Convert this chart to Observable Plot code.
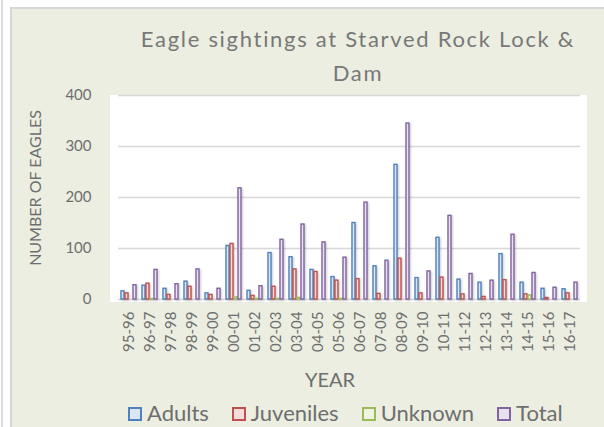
<!DOCTYPE html>
<html>
<head>
<meta charset="utf-8">
<script src="https://cdn.jsdelivr.net/npm/d3@7"></script>
<script src="https://cdn.jsdelivr.net/npm/@observablehq/plot@0.6"></script>
<style>
  html, body { margin: 0; padding: 0; background: #ffffff; }
  #page { position: relative; width: 604px; height: 427px; overflow: hidden; font-family: Lato, "Open Sans", sans-serif; }
  #vline { position: absolute; left: 1px; top: 0; width: 2px; height: 427px; background: #dcdcdc; }
  #frame { position: absolute; left: 10px; top: 7px; width: 610px; height: 440px; background: #ebeee0; border-left: 2px solid #d6d6d6; border-top: 2px solid #d6d6d6; }
  #title { position: absolute; left: 108px; width: 500px; top: 22px; text-align: center; font-size: 22px; letter-spacing: 1.7px; line-height: 34px; color: #787878; }
  #plotbg { position: absolute; left: 110px; top: 95px; width: 477px; height: 207px; background: #ffffff; }
  #chart { position: absolute; left: 0; top: 85px; }
  #ytitle { position: absolute; left: 35px; top: 188px; transform: translate(-50%, -50%) rotate(-90deg); white-space: nowrap; font-size: 16px; line-height: 16px; color: #6e6e6e; }
  #xtitle { position: absolute; left: 330px; top: 369px; transform: translateX(-50%); font-size: 20px; line-height: 20px; color: #6e6e6e; }
  #legend { position: absolute; left: 128px; top: 403px; display: flex; align-items: center; font-size: 22px; line-height: 20px; color: #6e6e6e; white-space: nowrap; }
  .item { display: flex; align-items: center; margin-right: 23px; }
  .sw { width: 10px; height: 10px; border-width: 2px; border-style: solid; margin-right: 5px; margin-top: 2px; }
</style>
</head>
<body>
<div id="page">
  <div id="vline"></div>
  <div id="frame"></div>
  <div id="title">Eagle sightings at Starved Rock Lock &amp;<br>Dam</div>
  <div id="plotbg"></div>
  <div id="chart"></div>
  <div id="ytitle">NUMBER OF EAGLES</div>
  <div id="xtitle">YEAR</div>
  <div id="legend"></div>
</div>
<script>
const seasons = ["95-96","96-97","97-98","98-99","99-00","00-01","01-02","02-03","03-04","04-05","05-06","06-07","07-08","08-09","09-10","10-11","11-12","12-13","13-14","14-15","15-16","16-17"];
const adults    = [16, 27, 21, 35, 12, 105, 17, 91, 83, 58, 44, 150, 65, 264, 42, 121, 39, 33, 89, 33, 21, 20];
const juveniles = [12, 31,  9, 25,  9, 109,  7, 25, 59, 54, 37,  40, 11,  80, 12,  43, 10,  5, 38, 10,  3, 12];
const unknown   = [ 0,  1,  0,  0,  0,   4,  1,  1,  3,  0,  1,   0,  0,   0,  0,   0,  0,  0,  0,  8,  0,  0];
const total     = [28, 58, 30, 59, 21, 218, 26, 117, 147, 112, 82, 190, 76, 345, 55, 164, 50, 37, 127, 52, 23, 33];
const seriesNames = ["Adults", "Juveniles", "Unknown", "Total"];
const yTicks = [0, 100, 200, 300, 400];

const strokes = {Adults: "#4f81bd", Juveniles: "#c0504d", Unknown: "#9bbb59", Total: "#8064a2"};
const fills   = {Adults: "#dce6f4", Juveniles: "#f4dcdb", Unknown: "#eef4df", Total: "#e8e2ef"};

const valuesBySeries = {Adults: adults, Juveniles: juveniles, Unknown: unknown, Total: total};
const rows = [];
seasons.forEach((s, i) => {
  seriesNames.forEach(name => rows.push({season: s, series: name, value: valuesBySeries[name][i]}));
});

const barMarks = seriesNames.map(name =>
  Plot.barY(rows.filter(d => d.series === name), {
    fx: "season", x: "series", y: "value",
    fill: fills[name], stroke: strokes[name], strokeWidth: 1.4
  })
);

const chart = Plot.plot({
  width: 604,
  height: 310,
  marginLeft: 110,
  marginRight: 17,
  marginTop: 10,
  marginBottom: 96,
  style: {background: "transparent", fontFamily: "Lato, 'Open Sans', sans-serif", fontSize: "15px", color: "#6e6e6e", overflow: "visible"},
  fx: {domain: seasons, padding: 0, label: null, tickRotate: -90, tickSize: 0, tickPadding: 12, axis: "bottom"},
  x: {domain: seriesNames, axis: null, paddingInner: 0.22, paddingOuter: 0.28},
  y: {domain: [0, 400], axis: null},
  marks: [
    Plot.gridY(yTicks, {stroke: "#d9d9d9", strokeOpacity: 1, strokeWidth: 1.6}),
    Plot.axisY(yTicks, {tickSize: 0, tickPadding: 0, dx: -27, label: null, fontSize: 15}),
    ...barMarks
  ]
});
document.getElementById("chart").appendChild(chart);
d3.select(chart).selectAll("g[aria-label='bar']").style("filter", "drop-shadow(1px 1px 1px rgba(0,0,0,0.22))");

const legend = document.getElementById("legend");
seriesNames.forEach(name => {
  const item = document.createElement("div");
  item.className = "item";
  const sw = document.createElement("div");
  sw.className = "sw";
  sw.style.borderColor = strokes[name];
  sw.style.background = fills[name];
  const label = document.createElement("span");
  label.textContent = name;
  item.appendChild(sw);
  item.appendChild(label);
  legend.appendChild(item);
});
</script>
</body>
</html>
